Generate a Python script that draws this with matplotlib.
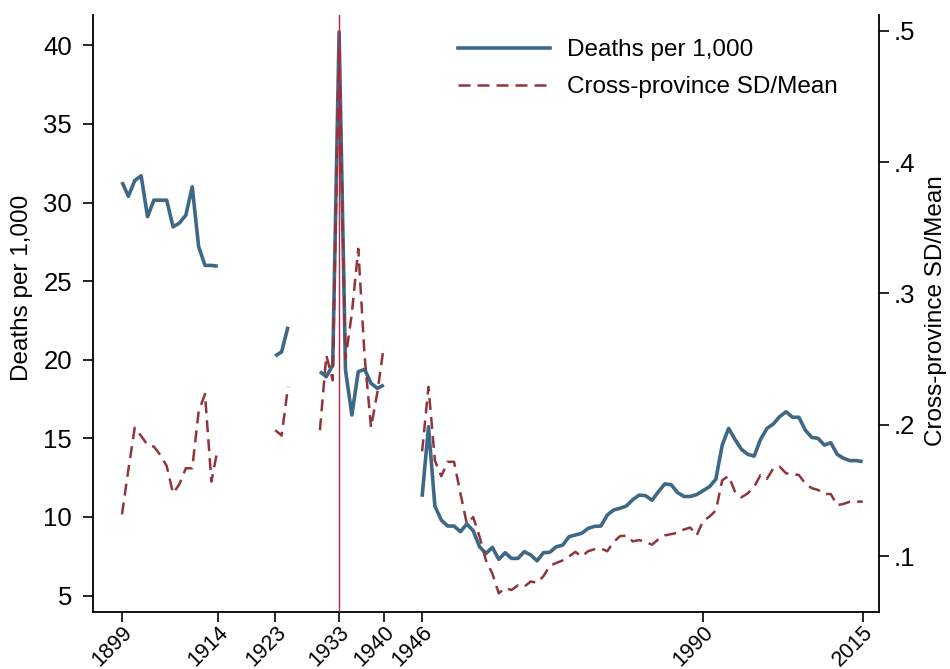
import numpy as np
import pandas as pd
import matplotlib
matplotlib.use("Agg")
import matplotlib.pyplot as plt
import matplotlib.transforms as mtransforms
from matplotlib.ticker import FuncFormatter
from matplotlib.lines import Line2D

plt.rcParams['font.family'] = ['Liberation Sans', 'DejaVu Sans']

# ---------------- data ----------------
years = (list(range(1899, 1915)) + list(range(1923, 1926)) +
         list(range(1930, 1941)) + list(range(1946, 2016)))

deaths = [
    # 1899-1914
    31.3, 30.4, 31.4, 31.7, 29.1, 30.15, 30.15, 30.15, 28.45, 28.7, 29.2, 31.0, 27.2, 26.0, 26.0, 25.95,
    # 1923-1925
    20.24, 20.5, 22.1,
    # 1930-1940
    19.24, 18.92, 19.66, 40.85, 19.34, 16.48, 19.24, 19.39, 18.5, 18.18, 18.39,
    # 1946-2015
    11.28, 15.74, 10.69, 9.8, 9.42, 9.42, 9.06, 9.55, 9.12, 8.1,
    7.68, 8.06, 7.3, 7.72, 7.36, 7.36, 7.79, 7.58, 7.21, 7.72,
    7.75, 8.1, 8.2, 8.74, 8.85, 8.96, 9.27, 9.4, 9.42, 10.12,
    10.44, 10.55, 10.7, 11.1, 11.39, 11.35, 11.06, 11.6, 12.1, 12.05,
    11.55, 11.3, 11.3, 11.42, 11.67, 11.92, 12.4, 14.57, 15.63, 14.93,
    14.3, 13.98, 13.87, 14.93, 15.63, 15.91, 16.38, 16.69, 16.34, 16.34,
    15.53, 15.06, 15.0, 14.57, 14.72, 13.98, 13.73, 13.58, 13.58, 13.52,
]

sd_mean = [
    # 1899-1914
    0.132, 0.166, 0.198, 0.1916, 0.1848, 0.1835, 0.1772, 0.1688, 0.148, 0.1551, 0.1671, 0.1671, 0.210, 0.2236, 0.157, 0.182,
    # 1923-1925
    0.196, 0.192, 0.229,
    # 1930-1940
    0.196, 0.253, 0.234, 0.488, 0.250, 0.285, 0.334, 0.252, 0.198, 0.225, 0.260,
    # 1946-2015
    0.180, 0.229, 0.173, 0.161, 0.172, 0.172, 0.148, 0.125, 0.130, 0.115,
    0.097, 0.087, 0.072, 0.076, 0.0745, 0.078, 0.077, 0.081, 0.080, 0.085,
    0.093, 0.095, 0.097, 0.100, 0.1035, 0.100, 0.104, 0.1055, 0.106, 0.104,
    0.111, 0.1155, 0.1158, 0.1115, 0.1125, 0.111, 0.109, 0.113, 0.116, 0.117,
    0.118, 0.1205, 0.122, 0.116, 0.127, 0.1303, 0.135, 0.158, 0.1612, 0.1493,
    0.145, 0.148, 0.153, 0.162, 0.159, 0.167, 0.1683, 0.1632, 0.1627, 0.162,
    0.1555, 0.152, 0.1506, 0.1475, 0.1475, 0.139, 0.140, 0.1417, 0.1417, 0.1417,
]

xtick_years = [1899, 1914, 1923, 1933, 1940, 1946, 1990, 2015]
left_ticks = [5, 10, 15, 20, 25, 30, 35, 40]
right_ticks = [0.1, 0.2, 0.3, 0.4, 0.5]
event_year = 1933

# reindex to full year range so gaps become breaks in the lines
df = pd.DataFrame({'deaths': deaths, 'sd': sd_mean}, index=years)
df = df.reindex(range(1899, 2016))

# ---------------- figure ----------------
W, H = 950, 669
fig = plt.figure(figsize=(W / 100, H / 100), dpi=100)
left, right, top, bottom = 93, 879, 15, 611.7
ax = fig.add_axes([left / W, (H - bottom) / H, (right - left) / W, (bottom - top) / H])
ax2 = ax.twinx()

blue = '#3E6885'
red = '#90353B'
vline_c = '#C81E3C'
dash = (4.8, 2.8)

ax.plot(df.index, df['deaths'], color=blue, lw=2.6, solid_joinstyle='round',
        solid_capstyle='butt', zorder=3)
ax2.plot(df.index, df['sd'], color=red, lw=1.8, dashes=dash, zorder=3)
ax2.axvline(event_year, color=vline_c, lw=1.0, zorder=5)

ax.set_xlim(1894.46, 2017.55)
ax.set_ylim(3.97, 41.93)
ax2.set_ylim(0.058, 0.5118)

ax.set_xticks(xtick_years)
ax.set_xticklabels([str(y) for y in xtick_years], rotation=45, ha='right',
                   va='top', rotation_mode='anchor')
offset = mtransforms.ScaledTranslation(13 / 100, 9 / 100, fig.dpi_scale_trans)
for lbl in ax.get_xticklabels():
    lbl.set_transform(lbl.get_transform() + offset)

ax.set_yticks(left_ticks)
ax2.set_yticks(right_ticks)
ax2.yaxis.set_major_formatter(FuncFormatter(lambda v, p: ('%.1f' % v).lstrip('0')))

for a in (ax, ax2):
    a.spines['top'].set_visible(False)
    for s in a.spines.values():
        s.set_linewidth(1.3)
        s.set_color('black')
ax.spines['right'].set_visible(False)
ax2.spines['left'].set_visible(False)
ax2.spines['bottom'].set_visible(False)

ax.tick_params(axis='both', direction='out', length=7.2, width=1.2, labelsize=18.5)
ax.tick_params(axis='y', pad=8)
ax.tick_params(axis='x', pad=0, labelsize=15.5)
ax2.tick_params(axis='y', direction='out', length=7.2, width=1.2, labelsize=18.5, pad=3)

ax.set_ylabel('Deaths per 1,000', fontsize=17.5, va='center', ha='center')
ax.yaxis.set_label_coords((22 - left) / (right - left), (bottom - 288) / (bottom - top))
ax2.set_ylabel('Cross-province SD/Mean', fontsize=17.5, va='center', ha='center')
ax2.yaxis.set_label_coords((936 - left) / (right - left), (bottom - 311) / (bottom - top))

handles = [Line2D([], [], color=blue, lw=2.6),
           Line2D([], [], color=red, lw=1.8, dashes=dash)]
fig.legend(handles, ['Deaths per 1,000', 'Cross-province SD/Mean'],
           loc='upper left', bbox_to_anchor=(458 / W, 1 - 39 / H),
           frameon=False, fontsize=17.5, handlelength=3.8, handletextpad=0.7,
           labelspacing=0.62, borderpad=0, borderaxespad=0)

fig.savefig('out.png', dpi=100, facecolor='white')
